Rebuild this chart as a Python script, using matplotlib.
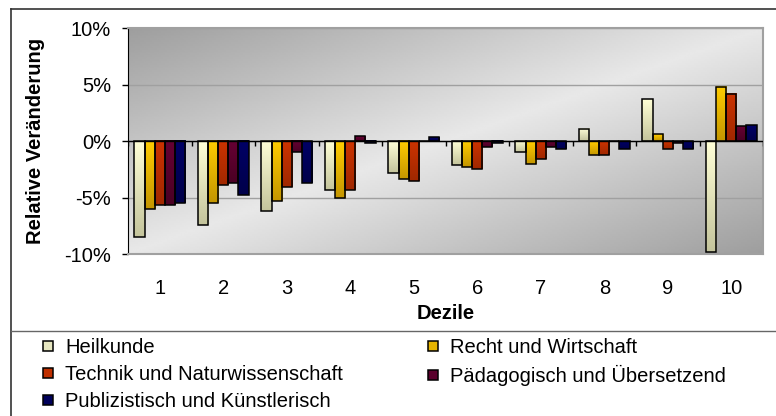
import numpy as np
import matplotlib
matplotlib.use('Agg')
import matplotlib.pyplot as plt
from matplotlib.colors import to_rgb
from matplotlib.lines import Line2D

plt.rcParams['font.family'] = ['Liberation Sans', 'DejaVu Sans']

# data (relative change in %)
dezile = [1, 2, 3, 4, 5, 6, 7, 8, 9, 10]
series = ['Heilkunde', 'Recht und Wirtschaft', 'Technik und Naturwissenschaft',
          'Pädagogisch und Übersetzend', 'Publizistisch und Künstlerisch']
heilkunde = [-8.5, -7.4, -6.2, -4.3, -2.8, -2.1, -1.0, 1.1, 3.7, -9.8]
recht = [-6.0, -5.5, -5.3, -5.0, -3.4, -2.3, -2.0, -1.2, 0.6, 4.8]
technik = [-5.7, -3.9, -4.1, -4.3, -3.5, -2.5, -1.6, -1.2, -0.7, 4.2]
paedagogik = [-5.7, -3.7, -1.0, 0.4, 0.0, -0.5, -0.5, 0.0, -0.15, 1.3]
publizistik = [-5.5, -4.8, -3.7, -0.2, 0.35, -0.2, -0.7, -0.7, -0.7, 1.4]

# colours: top / bottom of the bar gradient
top_cols = ['#ffffd6', '#ffcc00', '#cc3300', '#660033', '#000066']
bot_cols = ['#c4c49c', '#c49600', '#a02800', '#4a0024', '#00004a']
leg_cols = ['#e6e6c0', '#e6b400', '#c03000', '#5a002c', '#00005a']

fig = plt.figure(figsize=(7.76, 4.16), dpi=100)
W, H = 776, 416
ax = fig.add_axes([128 / W, 1 - 254 / H, (763 - 128) / W, (254 - 28) / H])

# gray diagonal gradient background
u = np.linspace(0, 1, 300)
v = np.linspace(0, 1, 120)
U, V = np.meshgrid(u, v)
t = (U + V) / 2
dark, light = 0.62, 0.91
g = dark + (light - dark) * (1 - np.abs(2 * t - 1))
ax.imshow(g, cmap='gray', vmin=0, vmax=1, extent=(0, 1, 0, 1), transform=ax.transAxes,
          aspect='auto', zorder=0, interpolation='bilinear')

x = np.array(dezile)
width = 0.16
all_vals = [heilkunde, recht, technik, paedagogik, publizistik]
for i, vals in enumerate(all_vals):
    bars = ax.bar(x + (i - 2) * width, vals, width, facecolor='none',
                  edgecolor='black', linewidth=1.1, zorder=4)
    c0 = np.array(to_rgb(top_cols[i]))
    c1 = np.array(to_rgb(bot_cols[i]))
    grad = np.linspace(0, 1, 60)[:, None, None]
    img = c0 * (1 - grad) + c1 * grad
    for b in bars:
        x0, y0, w, h = b.get_x(), b.get_y(), b.get_width(), b.get_height()
        lo, hi = min(y0, y0 + h), max(y0, y0 + h)
        if hi - lo <= 0:
            continue
        ax.imshow(img, extent=(x0, x0 + w, lo, hi), aspect='auto', zorder=3,
                  interpolation='bilinear')

# zero axis with category separators
ax.axhline(0, color='black', lw=1, zorder=5)
ax.vlines(np.arange(0.5, 10.6, 1), -0.45, 0, color='black', lw=1, zorder=5)

ax.set_xlim(0.5, 10.5)
ax.set_ylim(-10, 10)
yt = [-10, -5, 0, 5, 10]
ax.set_yticks(yt)
ax.set_yticklabels([f'{v}%' for v in yt])
ax.set_xticks(x)
ax.set_xticklabels([str(d) for d in dezile])
ax.yaxis.grid(True, color='#a0a0a0', lw=1)
ax.set_axisbelow(True)
ax.tick_params(axis='x', length=0, pad=18, labelsize=14.5)
ax.tick_params(axis='y', direction='out', length=4.3, width=1, pad=8, labelsize=14.5)
for s in ['top', 'right', 'bottom']:
    ax.spines[s].set_color('#a0a0a0')
    ax.spines[s].set_linewidth(1.5)
ax.spines['left'].set_color('black')

ax.set_xlabel('Dezile', fontsize=14.5, fontweight='bold', labelpad=4)
ax.set_ylabel('Relative Veränderung', fontsize=14.5, fontweight='bold', labelpad=14)

# outer chart frame and divider to legend
fr = dict(transform=fig.transFigure, color='#333333', lw=1.2)
fig.add_artist(Line2D([11 / W, 1], [1 - 9 / H, 1 - 9 / H], **fr))
fig.add_artist(Line2D([11 / W, 11 / W], [0, 1 - 9 / H], **fr))
fig.add_artist(Line2D([11 / W, 1], [1 - 331 / H, 1 - 331 / H], transform=fig.transFigure,
                      color='#666666', lw=1))

# legend, row-wise order in two columns
handles = [Line2D([], [], ls='none', marker='s', markersize=6.5, markerfacecolor=leg_cols[i],
                  markeredgecolor='black', markeredgewidth=1.1) for i in range(5)]
order = [0, 2, 4, 1, 3]
fig.legend([handles[i] for i in order], [series[i] for i in order],
           loc='upper left', bbox_to_anchor=(40 / W, 1 - 338 / H), ncol=2,
           frameon=False, fontsize=14.5, handlelength=0.8, handletextpad=0.45,
           columnspacing=4.05, labelspacing=0.4, borderpad=0, borderaxespad=0)

fig.savefig('out.png', dpi=100)
